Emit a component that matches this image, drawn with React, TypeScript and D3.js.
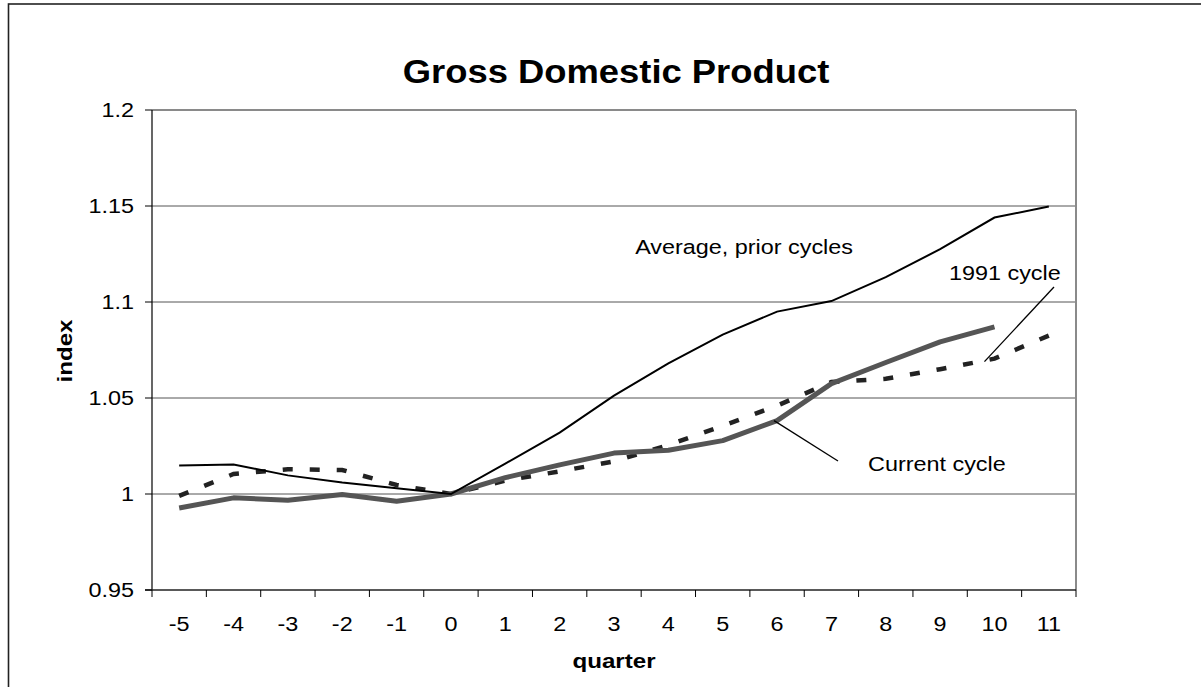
import React from "react";
import * as d3 from "d3";

const quarters = [-5, -4, -3, -2, -1, 0, 1, 2, 3, 4, 5, 6, 7, 8, 9, 10, 11];
const averagePrior = [1.0148, 1.0154, 1.0097, 1.006, 1.003, 1.0, 1.0158, 1.032, 1.0512, 1.068, 1.083, 1.095, 1.1005, 1.113, 1.1275, 1.144, 1.1497];
const currentCycle = [0.9927, 0.998, 0.9968, 0.9997, 0.9962, 1.0, 1.0085, 1.0152, 1.0213, 1.0228, 1.0278, 1.0382, 1.0575, 1.0685, 1.0792, 1.087];
const cycle1991 = [0.999, 1.0104, 1.0129, 1.0125, 1.0047, 1.0, 1.007, 1.0118, 1.017, 1.0255, 1.0355, 1.046, 1.0583, 1.06, 1.065, 1.0705, 1.0825];
const yTicks = [0.95, 1, 1.05, 1.1, 1.15, 1.2];
const yTickLabels = ["0.95", "1", "1.05", "1.1", "1.15", "1.2"];

const FONT = "'Liberation Sans', Arial, sans-serif";

function T(props: { x: number; y: number; size: number; sx?: number; anchor?: string; bold?: boolean; rotate?: number; children: any }) {
  const { x, y, size, sx = 1.2, anchor = "start", bold, rotate, children } = props;
  const tr = rotate ? `translate(${x},${y}) rotate(${rotate}) scale(${sx},1)` : `translate(${x},${y}) scale(${sx},1)`;
  return (
    <text transform={tr} fontSize={size} fontFamily={FONT} fontWeight={bold ? "bold" : "normal"} textAnchor={anchor} fill="#000">
      {children}
    </text>
  );
}

export default function App() {
  const W = 1201, H = 687;
  const left = 152, right = 1076, top = 110, bottom = 590;
  const x = d3.scaleBand<number>().domain(quarters).range([left, right]);
  const xc = (q: number) => (x(q) as number) + x.bandwidth() / 2;
  const y = d3.scaleLinear().domain([0.95, 1.2]).range([bottom, top]);
  const line = d3.line<number>().x((_, i) => xc(quarters[i])).y((v) => y(v));

  const p1991 = [xc(10), y(cycle1991[15])];
  const pCur = [xc(6), y(currentCycle[11])];

  return (
    <svg width={W} height={H} style={{ position: "absolute", left: 0, top: 0, background: "#fff" }}>
      <rect x={0} y={0} width={W} height={H} fill="#fff" />
      <rect x={8.5} y={4} width={1300} height={800} fill="none" stroke="#222" strokeWidth={1.6} />
      <T x={616} y={83} size={34} sx={1.07} anchor="middle" bold>Gross Domestic Product</T>
      {/* gridlines */}
      {yTicks.slice(1, 5).map((t) => (
        <line key={t} x1={left} x2={right} y1={y(t)} y2={y(t)} stroke="#555" strokeWidth={1} />
      ))}
      <line x1={left} x2={right} y1={top} y2={top} stroke="#8a8a8a" strokeWidth={2} />
      <line x1={right} x2={right} y1={top} y2={bottom} stroke="#8a8a8a" strokeWidth={2} />
      {/* axes */}
      <line x1={left} x2={left} y1={top} y2={bottom} stroke="#000" strokeWidth={1.2} />
      <line x1={left - 7} x2={right} y1={bottom} y2={bottom} stroke="#222" strokeWidth={1.6} />
      {yTicks.map((t, i) => (
        <g key={t}>
          <line x1={left - 7} x2={left} y1={y(t)} y2={y(t)} stroke="#000" strokeWidth={1} />
          <T x={134} y={y(t) + 7} size={19.5} anchor="end">{yTickLabels[i]}</T>
        </g>
      ))}
      {quarters.map((q) => (
        <line key={"t" + q} x1={x(q) as number} x2={x(q) as number} y1={bottom} y2={bottom + 7} stroke="#000" strokeWidth={1} />
      ))}
      <line x1={right} x2={right} y1={bottom} y2={bottom + 7} stroke="#000" strokeWidth={1} />
      {quarters.map((q) => (
        <T key={"l" + q} x={xc(q)} y={631} size={19.5} anchor="middle">{String(q)}</T>
      ))}
      <T x={614} y={668} size={21} sx={1.15} anchor="middle" bold>quarter</T>
      <T x={72} y={351} size={21} sx={1.15} anchor="middle" bold rotate={-90}>index</T>
      {/* series */}
      <path d={line(cycle1991) || ""} fill="none" stroke="#222" strokeWidth={4.5} strokeDasharray="10 17" />
      <path d={line(currentCycle) || ""} fill="none" stroke="#555" strokeWidth={5} strokeLinejoin="round" />
      <path d={line(averagePrior) || ""} fill="none" stroke="#000" strokeWidth={2} />
      {/* annotations */}
      <T x={853} y={254} size={19.5} anchor="end">Average, prior cycles</T>
      <T x={949} y={280} size={19.5}>1991 cycle</T>
      <line x1={1054} y1={287} x2={p1991[0] - 10} y2={p1991[1] + 3} stroke="#000" strokeWidth={1.3} />
      <T x={868} y={471} size={19.5}>Current cycle</T>
      <line x1={pCur[0] - 3} y1={pCur[1]} x2={838} y2={461} stroke="#000" strokeWidth={1.3} />
    </svg>
  );
}
